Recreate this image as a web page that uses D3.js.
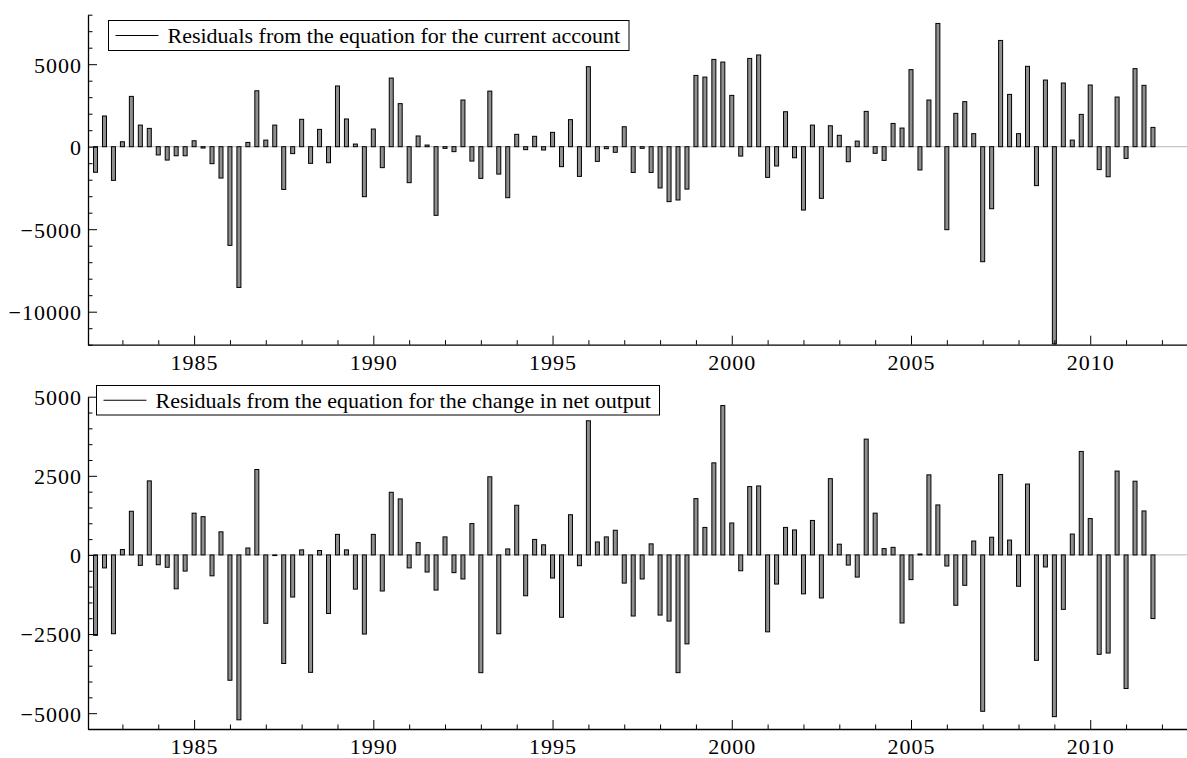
<!DOCTYPE html>
<html>
<head>
<meta charset="utf-8">
<script src="https://cdn.jsdelivr.net/npm/d3@7"></script>
<style>
  body { margin: 0; background: #fff; }
  svg { display: block; font-family: "Liberation Serif", "Times New Roman", serif; }
</style>
</head>
<body>
<svg width="1187" height="758"></svg>
<script>
// quarterly residuals, 1982Q2 .. 2011Q4
var firstYear = 1982, firstQuarter = 2;

var currentAccount = [
    -1550, 1860, -2040,
    300, 3050, 1310, 1110,
    -500, -810, -550, -550,
    360, -80, -1030, -1900,
    -5980, -8530, 260, 3390,
    400, 1310, -2590, -420,
    1660, -1010, 1050, -970,
    3680, 1680, 160, -3030,
    1070, -1270, 4160, 2610,
    -2180, 650, 100, -4160,
    -100, -300, 2830, -870,
    -1920, 3370, -1660, -3090,
    750, -180, 630, -200,
    870, -1210, 1640, -1800,
    4850, -890, -120, -340,
    1210, -1560, -100, -1560,
    -2500, -3330, -3230, -2570,
    4320, 4220, 5290, 5130,
    3110, -570, 5350, 5560,
    -1860, -1170, 2120, -670,
    -3840, 1310, -3130, 1270,
    690, -910, 340, 2140,
    -400, -830, 1410, 1130,
    4670, -1410, 2830, 7470,
    -5030, 2020, 2730, 790,
    -6970, -3760, 6440, 3170,
    790, 4870, -2360, 4040,
    -11950, 3860, 400, 1960,
    3740, -1390, -1820, 3010,
    -710, 4730, 3720, 1170
];

var netOutput = [
    -2540, -410, -2490,
    170, 1380, -330, 2340,
    -310, -390, -1070, -510,
    1320, 1210, -660, 730,
    -3960, -5210, 220, 2700,
    -2160, -20, -3430, -1330,
    160, -3710, 140, -1850,
    650, 160, -1080, -2500,
    650, -1140, 1980, 1770,
    -410, 390, -540, -1110,
    570, -560, -760, 990,
    -3720, 2470, -2490, 190,
    1570, -1290, 490, 320,
    -730, -1970, 1270, -340,
    4240, 410, 570, 780,
    -890, -1930, -760, 350,
    -1900, -2090, -3720, -2810,
    1780, 870, 2910, 4720,
    1010, -500, 2160, 2180,
    -2430, -920, 870, 790,
    -1230, 1090, -1360, 2410,
    340, -320, -700, 3660,
    1320, 200, 240, -2150,
    -780, 30, 2530, 1580,
    -350, -1590, -960, 440,
    -4940, 560, 2540, 470,
    -990, 2240, -3330, -380,
    -5110, -1720, 660, 3270,
    1150, -3140, -3100, 2650,
    -4220, 2330, 1390, -2010
];

var yearTicks = [1985, 1990, 1995, 2000, 2005, 2010];

var panels = [
    {
        values: currentAccount,
        label: "Residuals from the equation for the current account",
        yDomain: [-12000, 8000], yRange: [344.7, 14.7],
        major: [-10000, -5000, 0, 5000], minorStep: 1000,
        legend: {x: 108.5, y: 20.5, w: 520.5, h: 30}
    },
    {
        values: netOutput,
        label: "Residuals from the equation for the change in net output",
        yDomain: [-5500, 5000], yRange: [729, 396.7],
        major: [-5000, -2500, 0, 2500, 5000], minorStep: 500,
        legend: {x: 96.5, y: 385.5, w: 563, h: 29.5}
    }
];

function periodOf(i) {
    var q = firstQuarter - 1 + i;
    return firstYear + Math.floor(q / 4) + (q % 4) / 4;
}

var svg = d3.select("svg");
var fmt = d3.format("d");
var serif = "'Liberation Serif', 'Times New Roman', serif";

var x = d3.scaleLinear()
    .domain([1982.04, 2012.7])
    .range([88, 1187]);

var minorYears = d3.range(1983, 2013).filter(function(y) { return yearTicks.indexOf(y) < 0; });

panels.forEach(function(p) {
    var y = d3.scaleLinear().domain(p.yDomain).range(p.yRange);
    var g = svg.append("g");

    // zero line
    g.append("line")
        .attr("x1", x.range()[0]).attr("x2", x.range()[1])
        .attr("y1", y(0)).attr("y2", y(0))
        .attr("stroke", "#c4c4c4")
        .attr("stroke-width", 1.2);

    // bars
    g.append("g").selectAll("rect")
        .data(p.values)
        .enter().append("rect")
        .attr("x", function(d, i) { return x(periodOf(i)) - 2; })
        .attr("width", 4)
        .attr("y", function(d) { return y(Math.max(0, d)); })
        .attr("height", function(d) { return Math.abs(y(d) - y(0)); })
        .attr("fill", "#8f8f8f")
        .attr("stroke", "#000")
        .attr("stroke-width", 1);

    // y axis
    var minorY = d3.range(p.yDomain[0], p.yDomain[1] + 1, p.minorStep)
        .filter(function(v) { return p.major.indexOf(v) < 0; });
    g.append("g")
        .attr("transform", "translate(" + x.range()[0] + ",0)")
        .call(d3.axisLeft(y).tickValues(minorY).tickSize(-4.5).tickSizeOuter(0).tickFormat(""))
        .call(function(a) { a.select(".domain").remove(); });
    var yAxis = g.append("g")
        .attr("transform", "translate(" + x.range()[0] + ",0)")
        .call(d3.axisLeft(y).tickValues(p.major).tickSize(-9).tickSizeOuter(0).tickPadding(6).tickFormat(fmt));
    yAxis.selectAll("text").attr("dy", "0.36em");

    // x axis
    var base = p.yRange[0];
    g.append("g")
        .attr("transform", "translate(0," + base + ")")
        .call(d3.axisBottom(x).tickValues(minorYears).tickSize(-4.5).tickSizeOuter(0).tickFormat(""))
        .call(function(a) { a.select(".domain").remove(); });
    g.append("g")
        .attr("transform", "translate(0," + base + ")")
        .call(d3.axisBottom(x).tickValues(yearTicks).tickSize(-9).tickSizeOuter(0).tickPadding(9.5).tickFormat(fmt));

    svg.selectAll(".domain").attr("stroke-width", 1.3);
    svg.selectAll(".tick line").attr("stroke-width", 1);
    svg.selectAll(".tick text")
        .style("font-family", serif)
        .style("font-size", "22px")
        .style("letter-spacing", "1px")
        .attr("fill", "#000");

    // legend
    var L = p.legend;
    var lg = g.append("g");
    lg.append("rect")
        .attr("x", L.x).attr("y", L.y)
        .attr("width", L.w).attr("height", L.h)
        .attr("fill", "#fff")
        .attr("stroke", "#000")
        .attr("stroke-width", 1);
    lg.append("line")
        .attr("x1", L.x + 7).attr("x2", L.x + 50)
        .attr("y1", L.y + L.h / 2).attr("y2", L.y + L.h / 2)
        .attr("stroke", "#000")
        .attr("stroke-width", 1);
    lg.append("text")
        .attr("x", L.x + 59)
        .attr("y", L.y + L.h / 2 + 7.5)
        .style("font-family", serif)
        .style("font-size", "22px")
        .text(p.label);
});
</script>
</body>
</html>
